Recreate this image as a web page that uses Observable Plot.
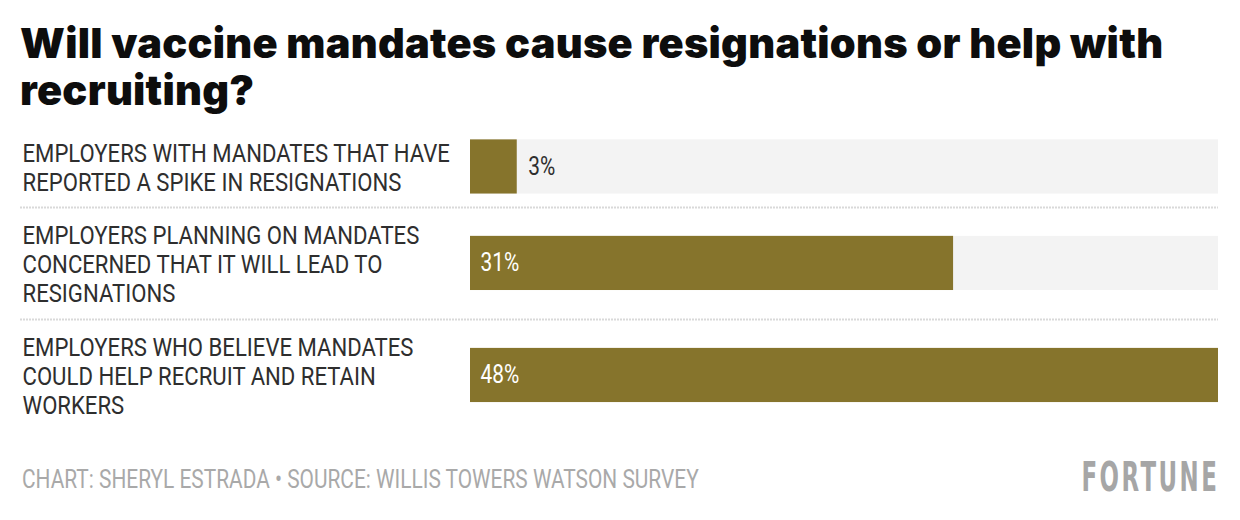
<!DOCTYPE html>
<html>
<head>
<meta charset="utf-8">
<script src="https://cdn.jsdelivr.net/npm/d3@7"></script>
<script src="https://cdn.jsdelivr.net/npm/@observablehq/plot@0.6"></script>
<style>
  html, body { margin: 0; padding: 0; background: #fff; width: 1240px; height: 520px; overflow: hidden; }
  #title { position: absolute; left: 20px; top: 20px; width: 1215px; font-family: Inter, "Noto Sans", sans-serif; font-weight: 900; font-size: 41.5px; line-height: 47px; color: #0d0d0d; letter-spacing: 0.25px; }
  #chart { position: absolute; left: 0; top: 120px; }
  #source { position: absolute; left: 22px; top: 465px; white-space: nowrap; font-family: Roboto, "Noto Sans", sans-serif; font-size: 25px; line-height: 30px; color: #a9a9a9; transform: scaleX(0.835); transform-origin: 0 0; }
  #logo { position: absolute; right: 21px; top: 453px; white-space: nowrap; font-family: "DejaVu Sans Condensed", "DejaVu Sans", sans-serif; font-stretch: condensed; font-weight: bold; font-size: 41px; line-height: 48px; color: #a6a6a6; letter-spacing: 4px; transform: scaleX(0.62); transform-origin: 100% 0; }
</style>
</head>
<body>
<div id="title">Will vaccine mandates cause resignations or help with recruiting?</div>
<div id="chart"></div>
<div id="source">CHART: SHERYL ESTRADA • SOURCE: WILLIS TOWERS WATSON SURVEY</div>
<div id="logo">FORTUNE</div>
<script>
const categories = [
  "EMPLOYERS WITH MANDATES THAT HAVE\nREPORTED A SPIKE IN RESIGNATIONS",
  "EMPLOYERS PLANNING ON MANDATES\nCONCERNED THAT IT WILL LEAD TO\nRESIGNATIONS",
  "EMPLOYERS WHO BELIEVE MANDATES\nCOULD HELP RECRUIT AND RETAIN\nWORKERS"
];
const values = [3, 31, 48];
const valueLabels = ["3%", "31%", "48%"];
const xMax = 48;

// row layout in "label line" units (rows grow with the number of label lines)
let acc = 0;
const rows = categories.map((c, i) => {
  const lines = c.split("\n").length;
  const h = lines + 0.6;
  const r = {label: c, value: values[i], text: valueLabels[i], y0: acc, y1: acc + h, mid: acc + h / 2};
  acc += h;
  return r;
});
const total = acc;
const half = 0.87;
const textFont = 'Roboto, "Noto Sans", sans-serif';

const plot = Plot.plot({
  width: 1240,
  height: 320,
  marginLeft: 20,
  marginRight: 22,
  marginTop: 6,
  marginBottom: 9,
  style: {fontFamily: textFont, background: "transparent"},
  x: {domain: [0, xMax], range: [470, 1218], axis: null},
  y: {domain: [0, total], range: [6, 311], axis: null},
  marks: [
    Plot.ruleY(rows.slice(1), {y: "y0", stroke: "#d9d9d9", strokeWidth: 2, strokeDasharray: "2,1"}),
    Plot.rect(rows, {x1: 0, x2: xMax, y1: d => d.mid - half, y2: d => d.mid + half, fill: "#f3f3f3"}),
    Plot.rect(rows, {x1: 0, x2: "value", y1: d => d.mid - half, y2: d => d.mid + half, fill: "#86742c"}),
    Plot.text(rows, {y: "mid", text: "label", frameAnchor: "left", textAnchor: "start", dx: 2, lineHeight: 1.1, fontSize: 26.5, fill: "#2e2e2e"}),
    Plot.text(rows.filter(d => d.value / xMax > 0.15), {x: 0, y: "mid", text: "text", textAnchor: "start", dx: 10, fontSize: 25, fill: "#fff"}),
    Plot.text(rows.filter(d => d.value / xMax <= 0.15), {x: "value", y: "mid", text: "text", textAnchor: "start", dx: 11, fontSize: 25, fill: "#2e2e2e"})
  ]
});
document.getElementById("chart").appendChild(plot);

// condensed look: squeeze glyphs horizontally around each text's own anchor
const condense = 0.835;
plot.querySelectorAll("text").forEach(t => {
  const tr = t.getAttribute("transform") || "";
  const xa = t.getAttribute("x");
  if (xa !== null && isFinite(+xa)) t.setAttribute("x", (+xa / condense).toFixed(2));
  t.setAttribute("transform", `${tr} scale(${condense},1)`.trim());
});
</script>
</body>
</html>
